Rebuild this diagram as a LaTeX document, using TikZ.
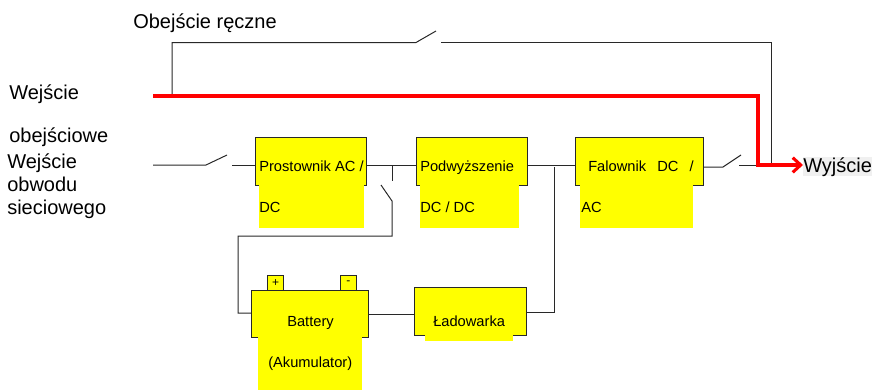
\documentclass[tikz,border=0pt]{standalone}
\usepackage{fontspec}
\setmainfont{Liberation Sans}
\usetikzlibrary{arrows.meta}
\definecolor{upsyellow}{RGB}{255,255,0}
\definecolor{upsred}{RGB}{255,0,0}
\definecolor{upswire}{RGB}{40,40,40}
\tikzset{
  upsbox/.style={rectangle,fill=upsyellow,draw=upswire,line width=.75pt,inner sep=0pt},
  upsfill/.style={rectangle,fill=upsyellow,inner sep=0pt},
  boxtext/.style={anchor=base west,inner sep=0pt,font=\fontsize{11}{13}\selectfont,text=black},
  bigtext/.style={anchor=base west,inner sep=0pt,font=\fontsize{15}{18}\selectfont,text=black},
  wire/.style={draw=upswire,line width=.75pt},
  redwire/.style={draw=upsred,line width=2.3pt}
}
\begin{document}
\begin{tikzpicture}[x=.75pt,y=-.75pt]
  \useasboundingbox (0,0) rectangle (874,390);

  % Bloki górne
  \node[upsbox,minimum width=83.6pt,minimum height=35.3pt] (prost) at (311.25,161.5) {};
  \node[upsfill,minimum width=78.8pt,minimum height=32.2pt] (prostdol) at (311.5,206.5) {};
  \node[upsbox,minimum width=83.6pt,minimum height=35.3pt] (podw) at (471.75,161.5) {};
  \node[upsfill,minimum width=74.3pt,minimum height=32.2pt] (podwdol) at (469.5,206.5) {};
  \node[upsbox,minimum width=95.3pt,minimum height=35.3pt] (fal) at (639.5,161.5) {};
  \node[upsfill,minimum width=84.8pt,minimum height=32.2pt] (faldol) at (636.5,206.5) {};

  % Akumulator i ładowarka
  \node[upsbox,minimum width=12pt,minimum height=11.5pt] (plus) at (275.5,283) {};
  \node[upsbox,minimum width=12pt,minimum height=11.5pt] (minus) at (348.25,283) {};
  \node[upsbox,minimum width=88pt,minimum height=35.5pt] (bat) at (310.25,313.75) {};
  \node[upsfill,minimum width=78pt,minimum height=39.5pt] (batdol) at (310,363.5) {};
  \node[upsbox,minimum width=83.3pt,minimum height=35.3pt] (lad) at (470.5,311.5) {};
  \node[upsfill,minimum width=66pt,minimum height=5pt] (laddol) at (469,338) {};

  % Opisy bloków
  \node[boxtext] (t1) at (259,171) {Prostownik AC /};
  \node[boxtext] (t2) at (259,212) {DC};
  \node[boxtext] (t3) at (420,171) {Podwyższenie};
  \node[boxtext] (t4) at (420,212) {DC / DC};
  \node[boxtext] (t5) at (588,171) {Falownik\hspace{8.4pt}DC\hspace{8.4pt}/};
  \node[boxtext] (t6) at (581,212) {AC};
  \node[boxtext] (t7) at (287,326) {Battery};
  \node[boxtext] (t8) at (268,367) {(Akumulator)};
  \node[boxtext] (t9) at (433,326) {Ładowarka};
  \node[inner sep=0pt,font=\fontsize{9}{10}\selectfont] (t10) at (plus) {+};
  \node[inner sep=0pt,font=\fontsize{9}{10}\selectfont] (t11) at (minus) {-};

  % Opisy zewnętrzne
  \node[bigtext] (l1) at (133,28.2) {Obejście ręczne};
  \node[bigtext] (l2) at (9,99.7) {Wejście};
  \node[bigtext] (l3) at (9,142) {obejściowe};
  \node[bigtext] (l4) at (7,168.5) {Wejście};
  \node[bigtext] (l5) at (7,191.5) {obwodu};
  \node[bigtext] (l6) at (7,214) {sieciowego};
  \node[bigtext,fill=gray!12] (wyj) at (803,172) {Wyjście};

  % Punkty pomocnicze
  \coordinate (redin) at (153,96);
  \coordinate (redup) at (758,96);
  \coordinate (redout) at (758,165);
  \coordinate (bypa) at (172,96);
  \coordinate (bypb) at (172,42.5);
  \coordinate (bypc) at (416,42.5);
  \coordinate (bypd) at (436,31);
  \coordinate (bype) at (441,42.5);
  \coordinate (bypf) at (771,42.5);
  \coordinate (bypg) at (771,165);
  \coordinate (sia) at (153,165);
  \coordinate (sib) at (206,165);
  \coordinate (sic) at (227,155);
  \coordinate (sid) at (232,165);
  \coordinate (ta) at (392,165);
  \coordinate (tb) at (392,181);
  \coordinate (tc) at (381,185);
  \coordinate (td) at (392,201);
  \coordinate (te) at (392,236);
  \coordinate (tf) at (238,236);
  \coordinate (tg) at (238,313);
  \coordinate (ua) at (554,167);
  \coordinate (ub) at (554,312.5);
  \coordinate (wa) at (723,167);
  \coordinate (wb) at (741,155);
  \coordinate (wc) at (739,165);

  % Połączenia
  \draw[wire] (bypa) -- (bypb) -- (bypc) -- (bypd);
  \draw[wire] (bype) -- (bypf) -- (bypg);
  \draw[wire] (sia) -- (sib) -- (sic);
  \draw[wire] (sid) -- (sid -| prost.west);
  \draw[wire] (sid -| prost.east) -- (sid -| podw.west);
  \draw[wire] (sid -| podw.east) -- (sid -| fal.west);
  \draw[wire] (ta) -- (tb);
  \draw[wire] (tc) -- (td) -- (te) -- (tf) -- (tg) -- (tg -| bat.west);
  \draw[wire] (ua) -- (ub) -- (ub -| lad.east);
  \draw[wire] (bat.east |- 0,314) -- (lad.west |- 0,314);
  \draw[wire] (fal.east |- wa) -- (wa) -- (wb);
  \draw[wire] (wc) -- (redout);

  % Tor czerwony
  \draw[redwire,-{Straight Barb[length=6pt,width=11pt,line width=2.3pt]}] (redin) -- (redup) -- (redout) -- (redout -| wyj.west);
\end{tikzpicture}
\end{document}
